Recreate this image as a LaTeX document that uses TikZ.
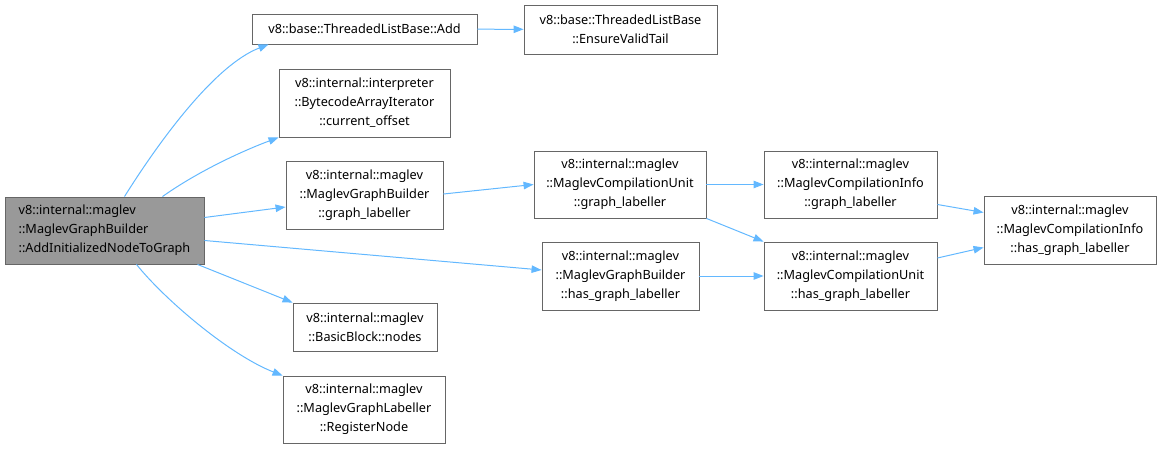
\documentclass[tikz,border=0pt]{standalone}
\usepackage{fontspec}
\setmainfont{Noto Sans}
\usetikzlibrary{arrows.meta}
\definecolor{edgeblue}{HTML}{63B8FF}
\definecolor{boxline}{HTML}{666666}
\definecolor{rootfill}{HTML}{999999}
\tikzset{
  fn/.style={draw=boxline, line width=0.9pt, fill=white, align=center, inner sep=0pt,
    font=\fontsize{12.7}{19}\selectfont},
  rootfn/.style={fn, fill=rootfill, align=left},
  edge/.style={draw=edgeblue, line width=1pt, -{Triangle[length=10pt,width=7.5pt]}}
}
\begin{document}
\begin{tikzpicture}[x=1pt,y=-1pt]
\useasboundingbox (0,0) rectangle (1162,449);
\node[rootfn, minimum width=199, minimum height=67] (root) at (104.5,230.5)
  {v8::internal::maglev\\::MaglevGraphBuilder\\::AddInitializedNodeToGraph};
\node[fn, minimum width=225, minimum height=30] (add) at (364.5,29) {v8::base::ThreadedListBase::Add};
\node[fn, minimum width=193, minimum height=49] (tail) at (620.5,29.5)
  {v8::base::ThreadedListBase\\::EnsureValidTail};
\node[fn, minimum width=171, minimum height=68] (offset) at (364.5,103)
  {v8::internal::interpreter\\::BytecodeArrayIterator\\::current\_offset};
\node[fn, minimum width=157, minimum height=68] (bgl) at (364.5,195)
  {v8::internal::maglev\\::MaglevGraphBuilder\\::graph\_labeller};
\node[fn, minimum width=172, minimum height=67] (cugl) at (620,184.5)
  {v8::internal::maglev\\::MaglevCompilationUnit\\::graph\_labeller};
\node[fn, minimum width=173, minimum height=67] (cigl) at (850.5,184.5)
  {v8::internal::maglev\\::MaglevCompilationInfo\\::graph\_labeller};
\node[fn, minimum width=172, minimum height=68] (cihas) at (1070,230.5)
  {v8::internal::maglev\\::MaglevCompilationInfo\\::has\_graph\_labeller};
\node[fn, minimum width=157, minimum height=68] (bhas) at (620.5,276)
  {v8::internal::maglev\\::MaglevGraphBuilder\\::has\_graph\_labeller};
\node[fn, minimum width=173, minimum height=68] (cuhas) at (850.5,276)
  {v8::internal::maglev\\::MaglevCompilationUnit\\::has\_graph\_labeller};
\node[fn, minimum width=144, minimum height=48] (nodes) at (365,327)
  {v8::internal::maglev\\::BasicBlock::nodes};
\node[fn, minimum width=162, minimum height=67] (reg) at (364,409.5)
  {v8::internal::maglev\\::MaglevGraphLabeller\\::RegisterNode};
\draw[edge] ([xshift=20pt]root.north) .. controls (160,140) and (215,65) .. ([xshift=-96pt]add.south);
\draw[edge] ([xshift=58pt]root.north) .. controls (200,170) and (245,150) .. (offset.south west);
\draw[edge] ([yshift=13pt]root.east) -- ([yshift=-12pt]bgl.west);
\draw[edge] ([yshift=-10pt]root.east) -- ([yshift=6pt]bhas.west);
\draw[edge] ([xshift=93pt]root.south) -- (nodes.north west);
\draw[edge] ([xshift=32pt]root.south) .. controls (165,300) and (230,355) .. (reg.north west);
\draw[edge] (add) -- (tail);
\draw[edge] ([yshift=1pt]bgl.east) -- (cugl.west);
\draw[edge] (cugl) -- (cigl);
\draw[edge] (cugl.south east) -- (cuhas.north west);
\draw[edge] (bhas) -- (cuhas);
\draw[edge] ([yshift=-20pt]cigl.east) -- ([yshift=18pt]cihas.west);
\draw[edge] ([yshift=18pt]cuhas.east) -- ([yshift=-17pt]cihas.west);
\end{tikzpicture}
\end{document}
